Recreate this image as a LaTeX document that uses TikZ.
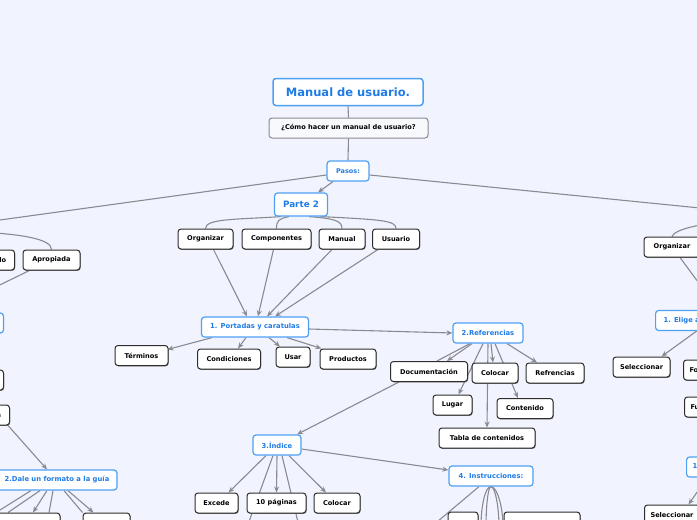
\documentclass[tikz,border=0pt]{standalone}
\usepackage{fontspec}
\setmainfont{DejaVu Sans}
\usetikzlibrary{arrows.meta,shadows,calc}
\definecolor{bgc}{HTML}{F1F4FE}
\definecolor{bluetxt}{HTML}{1F7BE6}
\definecolor{blueline}{HTML}{4DA0F2}
\definecolor{edgec}{HTML}{8A8A90}
\definecolor{boxline}{HTML}{2E2E2E}
\definecolor{qfill}{HTML}{F8F9FC}
\pgfdeclarelayer{edges}
\pgfsetlayers{edges,main}
\begin{document}
\begin{tikzpicture}[x=1pt,y=-1pt,
  bluebox/.style={draw=blueline,line width=1.2pt,fill=white,rounded corners=3pt,text=bluetxt,
    font=\fontsize{6.8}{8}\selectfont\bfseries,minimum height=20pt,inner xsep=3pt,inner ysep=0pt},
  titlebox/.style={bluebox,line width=1.5pt,font=\fontsize{11.5}{14}\selectfont\bfseries,minimum height=27pt,minimum width=150pt},
  blackbox/.style={draw=boxline,line width=1pt,fill=white,rounded corners=3pt,text=black,
    font=\fontsize{6.6}{8}\selectfont\bfseries,minimum height=20pt,inner xsep=3pt,inner ysep=0pt,
    drop shadow={shadow xshift=0.6pt,shadow yshift=-0.9pt,fill=black!55,opacity=1}},
  qbox/.style={draw=edgec,line width=1pt,fill=qfill,rounded corners=3pt,text=black,
    font=\fontsize{6.6}{8}\selectfont\bfseries,minimum height=20pt,inner xsep=3pt,inner ysep=0pt},
  link/.style={draw=edgec,line width=1.1pt},
  arr/.style={link,-{Stealth[length=6pt,width=5pt]}},
]
\useasboundingbox (0,0) rectangle (697,520);
\clip (0,0) rectangle (697,520);

% ---------- nodes ----------
\node[titlebox] (title) at (348,92) {Manual de usuario.};
\node[qbox,minimum width=159pt] (q) at (348.5,128) {¿Cómo hacer un manual de usuario?};
\node[bluebox,minimum width=42pt,font=\fontsize{6.5}{8}\selectfont\bfseries] (pasos) at (348,171) {Pasos:};
\node[bluebox,minimum width=53pt,minimum height=23pt,font=\fontsize{8.8}{10}\selectfont\bfseries] (parte) at (301,204.5) {Parte 2};

\node[blackbox,minimum width=55pt] (org1) at (205.5,239) {Organizar};
\node[blackbox,minimum width=69pt] (comp) at (276.5,239) {Componentes};
\node[blackbox,minimum width=46pt] (manual) at (342,239) {Manual};
\node[blackbox,minimum width=47pt] (usuario) at (396,239) {Usuario};
\node[blackbox,minimum width=56pt] (org2) at (672,247) {Organizar};

\node[blackbox,minimum width=46pt,anchor=east] (sencillo) at (15,260) {Sencillo};
\node[blackbox,minimum width=57pt] (aprop) at (51.5,260) {Apropiada};
\node[bluebox,minimum width=60pt,anchor=east] (leftblue) at (4,323) {};
\node[blackbox,minimum width=50pt,anchor=east] (leftblack) at (4,380) {};
\node[blackbox,minimum width=40pt,anchor=east] (lefta) at (10,415) {Forma};
\node[bluebox,minimum width=120pt] (dale) at (57,480) {2.Dale un formato a la guía};
\node[blackbox,minimum width=70pt] (dalec1) at (25,523) {};
\node[blackbox,minimum width=47pt] (dalec2) at (106.5,523) {};

\node[bluebox,minimum width=107pt] (port) at (255,327) {1. Portadas y caratulas};
\node[blackbox,minimum width=53pt] (term) at (141.5,355.5) {Términos};
\node[blackbox,minimum width=63pt] (cond) at (229,359) {Condiciones};
\node[blackbox,minimum width=34pt] (usar) at (293,357) {Usar};
\node[blackbox,minimum width=56pt] (prod) at (348,359) {Productos};

\node[bluebox,minimum width=70pt] (ref) at (488,333) {2.Referencias};
\node[blackbox,minimum width=77pt] (doc) at (429,371.5) {Documentación};
\node[blackbox,minimum width=46pt] (col1) at (495,373) {Colocar};
\node[blackbox,minimum width=58pt] (refr) at (555,373) {Refrencias};
\node[blackbox,minimum width=39pt] (lugar) at (452.5,405) {Lugar};
\node[blackbox,minimum width=56pt] (cont) at (525,408.5) {Contenido};
\node[blackbox,minimum width=96pt] (tabla) at (487,438) {Tabla de contenidos};

\node[bluebox,minimum width=48pt] (ind) at (277,445) {3.Índice};
\node[blackbox,minimum width=43pt] (exc) at (216.5,503) {Excede};
\node[blackbox,minimum width=59pt] (pag) at (276.5,503) {10 páginas};
\node[blackbox,minimum width=46pt] (col2) at (337,503) {Colocar};

\node[bluebox,minimum width=84pt] (inst) at (491,476) {4. Instrucciones:};
\node[blackbox,minimum width=30pt] (instc1) at (463,522) {};
\node[blackbox,minimum width=76pt] (instc2) at (542,522) {};

\node[bluebox,inner xsep=8pt,minimum width=100pt,align=left,anchor=west] (elige) at (655,320.5) {1. Elige a tu audiencia};
\node[blackbox,minimum width=57pt] (sel1) at (641.5,367) {Seleccionar};
\node[blackbox,inner xsep=6pt,anchor=west] (fo) at (683,370) {Formato};
\node[blackbox,inner xsep=6pt,anchor=west] (f2) at (684,407) {Fuente};
\node[bluebox,inner xsep=6pt,anchor=west] (one) at (686,467) {1. Elige};
\node[blackbox,inner xsep=6pt,anchor=west] (sel2) at (644,515) {Seleccionar};

\coordinate (P1) at (-40,225.5);
\coordinate (P1b) at (-45,231);
\coordinate (P2) at (740,212);
\coordinate (P3) at (730,222);

% ---------- connectors ----------
\begin{pgfonlayer}{edges}
\fill[bgc] (0,0) rectangle (697,520);
\clip (0,0) rectangle (697,520);
\draw[link] (title.south) -- (q.north);
\draw[link] (q.south) -- (pasos.north);
\draw[arr] ([xshift=-15pt]pasos.south) -- ([xshift=17pt]parte.north);
\draw[link] ([yshift=-4pt]pasos.west) -- (P1);
\draw[link] ([yshift=-4pt]pasos.east) -- (P2);

\draw[link] ([xshift=-20pt]parte.south) .. controls +(-45,3) and +(0,-10) .. (org1.north);
\draw[link] ([xshift=-12pt]parte.south) .. controls +(-10,2) and +(0,-8) .. (comp.north);
\draw[link] ([xshift=8pt]parte.south) .. controls +(25,2) and +(0,-8) .. (manual.north);
\draw[link] ([xshift=20pt]parte.south) .. controls +(60,3) and +(0,-8) .. (usuario.north);

\draw[link] (P1b) .. controls +(70,2) and +(0,-10) .. (aprop.north);
\draw[link] (P1b) .. controls +(30,2) and +(0,-8) .. (sencillo.north);
\draw[link] ([xshift=-22pt]aprop.south) -- ([xshift=-30pt]leftblue.north);
\draw[arr] ([xshift=-2pt]lefta.south east) -- ([xshift=-10pt]dale.north);

\draw[link] ([xshift=-26pt]dale.south) -- ([xshift=-29pt]dalec1.north);
\draw[link] ([xshift=-17pt]dale.south) -- ([xshift=-17pt]dalec1.north);
\draw[arr] ([xshift=-10pt]dale.south) -- ([xshift=8pt]dalec1.north);
\draw[link] ([xshift=-4pt]dale.south) -- ([xshift=24pt]dalec1.north);
\draw[link] ([xshift=7pt]dale.south) -- (dalec2.north west);
\draw[arr] ([xshift=11pt]dale.south) -- ([xshift=11pt]dalec2.north west);

\draw[arr] ([xshift=8pt]org1.south) -- ([xshift=-8pt]port.north);
\draw[arr] ([xshift=-3pt]comp.south) -- ([xshift=3pt]port.north);
\draw[arr] ([xshift=-10pt]manual.south) -- ([xshift=12pt]port.north);
\draw[arr] ([xshift=-18pt]usuario.south) -- ([xshift=20pt]port.north);

\draw[arr] ([xshift=-43pt]port.south) -- ([xshift=-1pt,yshift=6pt]term.east);
\draw[arr] ([xshift=-9pt]port.south) -- ([xshift=9pt]cond.north);
\draw[arr] ([xshift=14pt]port.south) -- ([xshift=-13pt]usar.north);
\draw[arr] ([xshift=32pt]port.south) -- ([xshift=2pt]prod.north west);
\draw[arr] ([yshift=-2pt]port.east) -- (ref.west);

\draw[link] ([xshift=-18pt]ref.south) -- ([xshift=8pt]doc.north);
\draw[arr] ([xshift=-16pt]ref.south) -- ([xshift=18pt]doc.north);
\draw[arr] ([xshift=-5pt]ref.south) -- ([xshift=6pt]lugar.north);
\draw[arr] (ref.south) -- (tabla.north);
\draw[arr] ([xshift=3pt]ref.south) -- ([xshift=-2pt]col1.north);
\draw[arr] ([xshift=7pt]ref.south) -- ([xshift=-7pt]cont.north);
\draw[arr] ([xshift=19pt]ref.south) -- ([xshift=-18pt]refr.north);

\draw[arr] ([xshift=-30pt]doc.south) -- ([xshift=20pt]ind.north);
\draw[arr] ([yshift=-4pt]ind.east) -- ([yshift=6pt]inst.west);

\draw[arr] ([xshift=-11pt]ind.south) -- ([xshift=12pt]exc.north);
\draw[link] ([xshift=-4pt]ind.south) -- ([xshift=-30pt,yshift=-15pt]pag.south);
\draw[arr] (ind.south) -- (pag.north);
\draw[link] ([xshift=5pt]ind.south) -- ([xshift=23pt,yshift=-15pt]pag.south);
\draw[arr] ([xshift=12pt]ind.south) -- ([xshift=-11pt]col2.north);

\draw[link] ([xshift=-12pt]inst.south) -- ([xshift=-23pt]instc1.south west);
\draw[link] (inst.south) .. controls +(-6,0) and +(0,-20) .. +(-10,40);
\draw[link] (inst.south) .. controls +(-3,0) and +(0,-20) .. +(-5,40);
\draw[link] (inst.south) .. controls +(4,0) and +(0,-20) .. +(8,40);
\draw[link] (inst.south) .. controls +(6,0) and +(0,-20) .. +(12,40);

\draw[link] (org2.north) .. controls +(2,-8) and +(-20,0) .. (P3);
\draw[arr] ([xshift=8pt]org2.south) -- ([xshift=12pt]elige.north);
\draw[arr] ([xshift=-10pt]elige.south) -- ([xshift=20pt]sel1.north);
\draw[arr] (one.south) -- ([xshift=16.5pt]sel2.north);
\end{pgfonlayer}
\end{tikzpicture}
\end{document}
